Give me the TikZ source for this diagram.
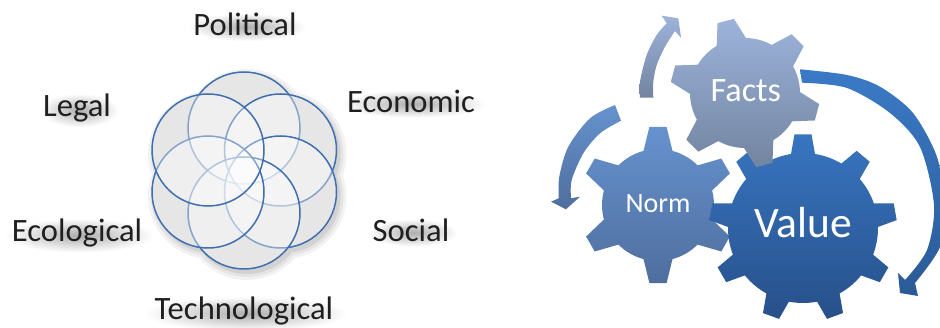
\documentclass[tikz,border=0pt]{standalone}
\usepackage{fontspec}
\setmainfont{Carlito}
\usetikzlibrary{fadings,shadows}

\definecolor{petalblue}{HTML}{3F6FAE}
\definecolor{petalgrey}{HTML}{D8D8D8}
\definecolor{factstop}{HTML}{9DB3DB}
\definecolor{factsbot}{HTML}{72849F}
\definecolor{normtop}{HTML}{6692CE}
\definecolor{normbot}{HTML}{4F6E9E}
\definecolor{valuetop}{HTML}{3875C0}
\definecolor{valuebot}{HTML}{27508A}
\definecolor{bigtop}{HTML}{3A7AC6}
\definecolor{bigbot}{HTML}{2B5A96}

\tikzfading[name=softglow, inner color=transparent!68, outer color=transparent!100]

% one gear: style, centre, body radius, tip radius, teeth, first angle, half base, half tip
\newcommand{\gearpath}[8]{%
  \path[#1, shift={(#2)}] (#6-#7:#3)
    \foreach \t [evaluate=\t as \a using #6+(\t-1)*360/#5] in {1,...,#5}{
      -- (\a-#8:#4) -- (\a+#8:#4) -- (\a+#7:#3)
      arc[start angle=\a+#7, end angle=\a+360/#5-#7, radius=#3]
    } -- cycle;}

\tikzset{
  x=1pt, y=1pt,
  petal/.style={circle, draw=petalblue, line width=1.5pt, fill=white, fill opacity=0.36,
    draw opacity=1, minimum size=112pt, inner sep=0pt},
  labeltext/.style={anchor=base, font=\fontsize{32.6}{33}\selectfont, text=black!88, inner sep=1pt,
    general shadow={fill=black, path fading=softglow, shadow scale=1.12, shadow xshift=2pt, shadow yshift=-2pt}},
  geartext/.style={anchor=base, text=white, inner sep=0pt},
  factsgear/.style={top color=factstop, bottom color=factsbot},
  normgear/.style={top color=normtop, bottom color=normbot},
  valuegear/.style={top color=valuetop, bottom color=valuebot},
}

\begin{document}
\begin{tikzpicture}
  \useasboundingbox (0,0) rectangle (940,328);

  % soft shadow and grey base of the flower
  \foreach \g/\o in {7/0.05,4/0.06,1/0.08}{
    \begin{scope}[transparency group, opacity=\o]
      \foreach \c in {{244,200},{280.5,178},{280.5,136},{244,115},{208,136},{208,178}}
        \fill[black, shift={(3,-4)}] (\c) circle (56+\g);
    \end{scope}
  }
  \foreach \c in {{244,200},{280.5,178},{280.5,136},{244,115},{208,136},{208,178}}
    \fill[petalgrey] (\c) circle (56);

  \foreach \p/\c in {political/{244,200},economic/{280.5,178},social/{280.5,136},
                     technological/{244,115},ecological/{208,136},legal/{208,178}}
    \node[petal] (\p) at (\c) {};

  \node[labeltext] (lblpolitical) at (245,292) {Political};
  \node[labeltext] (lbllegal) at (77,211.3) {Legal};
  \node[labeltext] (lbleconomic) at (411,215.3) {Economic};
  \node[labeltext] (lblecological) at (77,86.3) {Ecological};
  \node[labeltext] (lblsocial) at (411,86.3) {Social};
  \node[labeltext] (lbltechnological) at (244,8) {Technological};

  % cycle arrows
  \path[top color=bigtop, bottom color=bigbot]
    plot[smooth] coordinates {(800,258.7) (847,253) (880,241.3) (913,215) (937,171) (944,123) (940,81) (915,45)}
    -- (918,32) -- (900,35) -- (898,55) -- (905,48)
    -- plot[smooth] coordinates {(905,48) (927,78) (934,123) (920,181) (890,215) (847,240) (802,245.3)}
    -- cycle;
  \path[normgear]
    plot[smooth] coordinates {(615,223) (590,209.7) (568.3,181.3) (559.3,151.3) (558.7,129.7)}
    -- (551,126.3) -- (566,118.7) -- (580,131.3) -- (571,129.7)
    -- plot[smooth] coordinates {(571,129.7) (571.7,148) (583.3,174.7) (600,194.7) (621,207.3)}
    -- cycle;
  \path[factsgear]
    plot[smooth] coordinates {(640,230.3) (640,246.3) (646.7,273) (656.7,293) (666.7,304.7)}
    -- (661.7,312.3) -- (678.3,309.7) -- (681,290.3) -- (675,297)
    -- plot[smooth] coordinates {(675,297) (665,281.3) (656.7,263) (653.3,246.3) (653.3,230.3)}
    -- cycle;

  % gears
  \coordinate (normc) at (658,123);
  \coordinate (valuec) at (803,100);
  \coordinate (factsc) at (745,235);
  \gearpath{normgear}{normc}{56}{78.5}{6}{90}{15}{6.3}
  \gearpath{valuegear}{valuec}{75}{94}{9}{90}{9.2}{5.2}
  \gearpath{factsgear}{factsc}{55}{75}{6}{45}{16}{6.5}
  \node[geartext, font=\fontsize{28}{28}\selectfont] (norm) at (658,115.7) {Norm};
  \node[geartext, font=\fontsize{43.5}{44}\selectfont] (value) at (803,90.7) {Value};
  \node[geartext, font=\fontsize{34.2}{35}\selectfont] (facts) at (745.8,226.3) {Facts};
\end{tikzpicture}
\end{document}
